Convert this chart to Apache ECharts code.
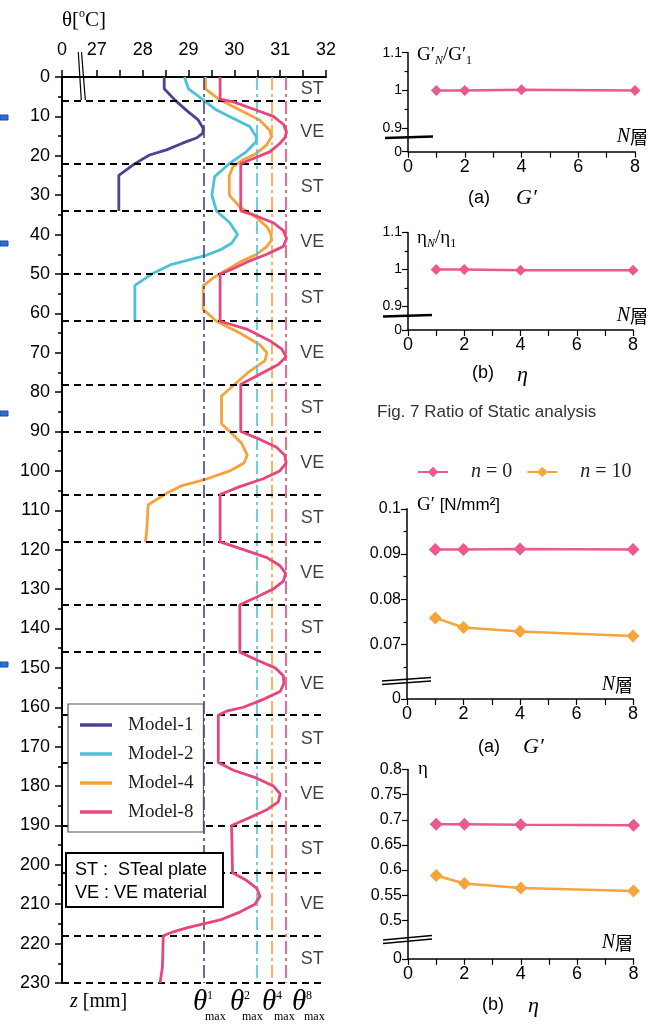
<!DOCTYPE html>
<html>
<head>
<meta charset="utf-8">
<script src="https://cdn.jsdelivr.net/npm/echarts@6.0.0/dist/echarts.min.js"></script>
<style>
html, body { margin: 0; padding: 0; background: #fff; }
#main { width: 667px; height: 1026px; }
</style>
</head>
<body>
<div id="main"></div>
<script>
var SANS = '"Liberation Sans", Arial, sans-serif';
var SERIF = '"Liberation Serif", "Times New Roman", serif';
var CJK = '"Noto Sans CJK JP", "Noto Sans CJK SC", sans-serif';

var PURPLE = '#4b4292', CYAN = '#4cc1d9', ORANGE = '#f6a23a', PINK = '#e8457d';
var PINK2 = '#ea5a8c', ORANGE2 = '#f6a53c';

// ---- left figure: temperature through the depth ----
var thetaStart = 26.24;            // broken axis origin, printed as "0"
var thetaLabels = [27, 28, 29, 30, 31, 32];
var thetaTicks = [27, 27.5, 28, 28.5, 29, 29.5, 30, 30.5, 31, 31.5, 32];
var layerEdges = [0, 6, 22, 34, 50, 62, 78, 90, 106, 118, 134, 146, 162, 174, 190, 202, 218, 230];
var layerNames = ['ST', 'VE', 'ST', 'VE', 'ST', 'VE', 'ST', 'VE', 'ST', 'VE', 'ST', 'VE', 'ST', 'VE', 'ST', 'VE', 'ST'];
var layerLabelX = 31.7;

var modelNames = ['Model-1', 'Model-2', 'Model-4', 'Model-8'];
var modelColors = [PURPLE, CYAN, ORANGE, PINK];
var thetaMax = [29.34, 30.48, 30.82, 31.12];

var zM1 = [0, 3, 5.8, 8.4, 10.9, 13, 14.3, 15.5, 16.8, 18.5, 19.8, 22, 25, 34];
var tM1 = [28.47, 28.47, 28.70, 28.95, 29.21, 29.32, 29.31, 29.17, 28.87, 28.52, 28.15, 27.83, 27.48, 27.48];

var zM2 = [0, 3, 5.8, 8.4, 10.5, 12.6, 15.2, 16.4, 19, 21.9, 25.3, 30, 34, 37, 40, 42.2, 43.9, 45.2, 47.7, 49.8, 52.9, 62];
var tM2 = [28.91, 29.0, 29.32, 29.61, 29.97, 30.34, 30.48, 30.48, 30.26, 29.90, 29.57, 29.51, 29.61, 29.90, 30.07, 29.94, 29.69, 29.40, 28.60, 28.23, 27.83, 27.83];

var zM4 = [0, 3, 5.8, 8.4, 10.9, 13.5, 15.2, 17.3, 19.4, 21, 22.8, 25, 30, 33, 35, 38, 40, 41.5, 43, 45, 47, 49, 51, 53, 59, 62,
           65, 68, 70, 72, 75, 78, 81, 88, 90, 93, 96, 98, 100, 102.3, 103.8, 105.7, 108.6, 115, 118];
var tM4 = [29.37, 29.37, 29.68, 30.12, 30.55, 30.77, 30.81, 30.70, 30.48, 30.19, 29.97, 29.89, 29.89, 30.12, 30.41, 30.71, 30.80, 30.81, 30.71, 30.49, 30.12, 29.83, 29.54, 29.32, 29.32, 29.61,
           30.12, 30.56, 30.71, 30.67, 30.30, 30.01, 29.72, 29.72, 29.90, 30.16, 30.28, 30.21, 29.90, 29.33, 28.84, 28.52, 28.12, 28.09, 28.06];

var zM8 = [0, 5.6, 6.3, 8, 10, 12, 14, 15.5, 17, 19, 21, 22, 34, 35, 37, 39, 41, 43, 45, 47, 49, 50, 62, 64, 67, 69, 71, 73, 75, 77, 78,
           90, 92, 94, 96, 98, 100, 102, 104, 106, 118, 120, 122, 124, 126, 128, 130, 132, 134, 146, 148, 150, 152, 154, 156, 158, 160, 161, 162,
           174, 176, 178, 180, 182, 184, 186, 188, 190, 202, 204, 206, 208, 210, 212, 214, 216, 217, 218, 226, 230];
var tM8 = [29.69, 29.69, 29.98, 30.38, 30.85, 31.07, 31.14, 31.10, 30.98, 30.77, 30.35, 30.14, 30.14, 30.41, 30.85, 31.07, 31.14, 31.07, 30.71, 30.27, 29.91, 29.69, 29.69, 30.27, 30.78, 31.03, 31.13, 30.96, 30.63, 30.31, 30.14,
           30.14, 30.56, 30.92, 31.10, 31.13, 30.99, 30.63, 30.12, 29.69, 29.69, 30.20, 30.71, 30.99, 31.12, 31.07, 30.85, 30.49, 30.12, 30.12, 30.49, 30.89, 31.07, 31.08, 31.00, 30.63, 30.20, 29.83, 29.65,
           29.65, 29.98, 30.49, 30.85, 31.00, 30.96, 30.71, 30.34, 29.94, 29.96, 30.27, 30.49, 30.56, 30.45, 30.12, 29.69, 28.96, 28.67, 28.45, 28.43, 28.38];

var modelZ = [zM1, zM2, zM4, zM8];
var modelT = [tM1, tM2, tM4, tM8];

// ---- right figures ----
var nLayers = [1, 2, 4, 8];
var nLabels = [0, 2, 4, 6, 8];
var ratioG = [1.0, 1.0, 1.002, 1.0];
var ratioEta = [1.0, 1.0, 0.998, 0.998];
var gN0 = [0.091, 0.091, 0.0911, 0.091];
var gN10 = [0.0759, 0.0738, 0.0729, 0.0719];
var etaN0 = [0.691, 0.691, 0.690, 0.689];
var etaN10 = [0.589, 0.573, 0.564, 0.558];

var ratioTicks = [0.9, 1, 1.1];
var ratioMinor = [0.95, 1.05];
var gTicks = [0.07, 0.08, 0.09, 0.1];
var gMinor = [0.065, 0.075, 0.085, 0.095];
var etaTicks = [0.5, 0.55, 0.6, 0.65, 0.7, 0.75, 0.8];

function pairs(xs, ys) {
    return xs.map(function (x, i) { return [x, ys[i]]; });
}

var dom = document.getElementById('main');
var myChart = echarts.init(dom, null, { renderer: 'canvas' });

var black = { color: '#000', width: 1.5 };

function smallX(gi) {
    return {
        gridIndex: gi, type: 'value', min: 0, max: 8, interval: 1,
        axisLine: { lineStyle: black },
        axisTick: { length: 6, lineStyle: { color: '#000', width: 1.2 } },
        axisLabel: { customValues: nLabels, color: '#000', fontSize: 18, fontFamily: SANS, margin: 6 },
        splitLine: { show: false }
    };
}
function smallY(gi, min, max, ticks, fs) {
    var vals = [min].concat(ticks);
    return {
        gridIndex: gi, type: 'value', min: min, max: max, position: 'left',
        axisLine: { show: true, lineStyle: black },
        axisTick: { show: true, customValues: vals, length: 6, lineStyle: { color: '#000', width: 1.2 } },
        axisLabel: {
            customValues: vals, color: '#000', fontSize: fs, fontFamily: SANS, margin: 6,
            formatter: function (v) { return v < ticks[0] - 1e-6 ? '0' : String(v); }
        },
        splitLine: { show: false }
    };
}
function minorY(gi, min, max, minor) {
    return {
        gridIndex: gi, type: 'value', min: min, max: max, position: 'left', offset: 0,
        axisLine: { show: false },
        axisTick: { show: true, customValues: minor, length: 3.5, lineStyle: { color: '#000', width: 1.2 } },
        axisLabel: { show: false },
        splitLine: { show: false }
    };
}
function smallLine(name, xi, yi, ys, color, size) {
    return {
        name: name, type: 'line', xAxisIndex: xi, yAxisIndex: yi,
        data: pairs(nLayers, ys),
        symbol: 'diamond', symbolSize: size,
        lineStyle: { color: color, width: 2.5 },
        itemStyle: { color: color },
        z: 3
    };
}

// main series
var series = [];
modelNames.forEach(function (name, i) {
    series.push({
        name: name, type: 'line', xAxisIndex: 0, yAxisIndex: 0,
        data: pairs(modelT[i], modelZ[i]),
        symbol: 'none',
        lineStyle: { color: modelColors[i], width: 2.8 },
        itemStyle: { color: modelColors[i] },
        z: 2 + i,
        markLine: {
            silent: true, symbol: ['none', 'none'], label: { show: false },
            lineStyle: { color: modelColors[i], width: 1.6, type: [13, 4, 3, 4] },
            data: [{ xAxis: thetaMax[i] }]
        }
    });
});
series.push({
    name: 'layers', type: 'scatter', xAxisIndex: 0, yAxisIndex: 0,
    symbolSize: 1,
    itemStyle: { color: 'rgba(0,0,0,0)' },
    data: layerNames.map(function (n, i) {
        return { value: [layerLabelX, (layerEdges[i] + layerEdges[i + 1]) / 2], name: n };
    }),
    label: {
        show: true, position: 'inside', formatter: '{b}',
        color: '#111', fontSize: 18, fontFamily: SANS
    },
    markLine: {
        silent: true, symbol: ['none', 'none'], label: { show: false },
        lineStyle: { color: '#000', width: 1.8, type: [7, 5] },
        data: layerEdges.slice(1).map(function (z) { return { yAxis: z }; })
    },
    z: 1
});

series.push(smallLine('ratioG', 1, 1, ratioG, PINK2, 11));
series.push(smallLine('ratioEta', 2, 3, ratioEta, PINK2, 11));
series.push(smallLine('n = 0', 3, 5, gN0, PINK2, 13));
series.push(smallLine('n = 10', 3, 5, gN10, ORANGE2, 13));
series.push(smallLine('n = 0', 4, 7, etaN0, PINK2, 13));
series.push(smallLine('n = 10', 4, 7, etaN10, ORANGE2, 13));

// annotations
var graphics = [];
function txt(x, y, text, font, opts) {
    var o = opts || {};
    graphics.push({
        type: 'text', x: x, y: y, z: 100, silent: true,
        style: {
            text: text, font: font, fill: o.fill || '#000',
            textAlign: o.align || 'left', textVerticalAlign: o.valign || 'middle',
            rich: o.rich
        }
    });
}
function seg(x1, y1, x2, y2, w) {
    graphics.push({
        type: 'line', z: 100, silent: true,
        shape: { x1: x1, y1: y1, x2: x2, y2: y2 },
        style: { stroke: '#000', lineWidth: w }
    });
}

// main axis name and break
txt(62, 20, '{a|θ[}{s|o}{a|C]}', '20px ' + SERIF, {
    rich: {
        a: { fontFamily: SERIF, fontSize: 21, lineHeight: 24, verticalAlign: 'middle' },
        s: { fontFamily: SERIF, fontSize: 12, lineHeight: 24, verticalAlign: 'top' }
    }
});
seg(78.3, 52, 81.3, 100, 1.2);
seg(81.5, 52, 85.3, 100, 1.2);

// bottom labels
txt(70, 1002, '{i|z} [mm]', '20px ' + SERIF, {
    rich: { i: { fontFamily: SERIF, fontSize: 20, fontStyle: 'italic' } }
});
var thetaLabelX = [193, 230, 262, 292];
var thetaSup = ['1', '2', '4', '8'];
thetaLabelX.forEach(function (x, i) {
    txt(x, 1002, 'θ', 'italic 29px ' + SERIF);
    txt(x + 14, 996, thetaSup[i], '12px ' + SERIF);
    txt(x + 12, 1017, 'max', '12px ' + SERIF);
});

// ST / VE key box
graphics.push({
    type: 'rect', z: 100, silent: true,
    shape: { x: 66, y: 853, width: 157, height: 54 },
    style: { fill: '#fff', stroke: '#000', lineWidth: 2 }
});
txt(75, 870, 'ST :  STeal plate', '18px ' + SANS);
txt(75, 893, 'VE : VE material', '18px ' + SANS);

// left margin marks
[115, 241, 411, 662].forEach(function (y) {
    graphics.push({
        type: 'rect', z: 100, silent: true,
        shape: { x: 0, y: y, width: 8, height: 5 },
        style: { fill: '#2a6fd6', stroke: '#1c4fa8', lineWidth: 1 }
    });
});

// right charts: axis names
var subRich = {
    t: { fontFamily: SERIF, fontSize: 19, lineHeight: 24, verticalAlign: 'middle' },
    s: { fontFamily: SERIF, fontSize: 12, lineHeight: 12, verticalAlign: 'bottom', fontStyle: 'italic' },
    n: { fontFamily: SERIF, fontSize: 12, lineHeight: 12, verticalAlign: 'bottom' },
    u: { fontFamily: SANS, fontSize: 17, lineHeight: 24, verticalAlign: 'middle' }
};
txt(417, 55, '{t|G′}{s|N}{t|/G′}{n|1}', '19px ' + SERIF, { rich: subRich });
txt(417, 238, '{t|η}{s|N}{t|/η}{n|1}', '19px ' + SERIF, { rich: subRich });
txt(417, 505, '{t|G′ }{u|[N/mm²]}', '19px ' + SERIF, { rich: subRich });
txt(418, 769, 'η', '19px ' + SERIF);

// N層 labels
var nRich = {
    i: { fontFamily: SERIF, fontSize: 20, fontStyle: 'italic' },
    c: { fontFamily: CJK, fontSize: 18 }
};
txt(648, 137, '{i|N}{c|層}', '18px ' + CJK, { align: 'right', rich: nRich });
txt(648, 316, '{i|N}{c|層}', '18px ' + CJK, { align: 'right', rich: nRich });
txt(633, 685, '{i|N}{c|層}', '18px ' + CJK, { align: 'right', rich: nRich });
txt(633, 943, '{i|N}{c|層}', '18px ' + CJK, { align: 'right', rich: nRich });

// captions
txt(468, 198, '(a)', '18px ' + SANS);
txt(516, 198, 'G′', 'italic 22px ' + SERIF);
txt(472, 373, '(b)', '18px ' + SANS);
txt(517, 375, 'η', 'italic 22px ' + SERIF);
txt(377, 412, 'Fig. 7 Ratio of Static analysis', '17px ' + SANS, { fill: '#333' });
txt(478, 747, '(a)', '18px ' + SANS);
txt(523, 747, 'G′', 'italic 22px ' + SERIF);
txt(482, 1005, '(b)', '18px ' + SANS);
txt(528, 1006, 'η', 'italic 22px ' + SERIF);

// axis breaks on the right charts
seg(385, 138, 433, 136.5, 2.5);
seg(383, 316.5, 432, 315, 2.5);
seg(382, 681, 431, 677.5, 1.4);
seg(382, 684.5, 431, 681, 1.4);
seg(383, 940, 432, 935.5, 1.4);
seg(383, 943.5, 432, 939, 1.4);

var option = {
    animation: false,
    backgroundColor: '#fff',
    textStyle: { fontFamily: SANS },
    legend: [
        {
            data: modelNames, orient: 'vertical', left: 68, top: 704,
            icon: 'rect',
            padding: [11, 10, 10, 12], itemGap: 9, itemWidth: 32, itemHeight: 3.5,
            backgroundColor: '#fff', borderColor: '#555', borderWidth: 1.2,
            textStyle: { fontFamily: SERIF, fontSize: 19, color: '#222', lineHeight: 20, padding: [0, 0, 0, 11] },
            z: 20
        },
        {
            data: ['n = 0', 'n = 10'], orient: 'horizontal', left: 417, top: 462,
            itemGap: 14, itemWidth: 30, itemHeight: 13, padding: 0,
            textStyle: {
                fontFamily: SERIF, fontSize: 20, color: '#222', padding: [0, 0, 0, 18],
                rich: { i: { fontFamily: SERIF, fontSize: 20, fontStyle: 'italic', color: '#222' } }
            },
            formatter: function (name) { return '{i|n}' + name.slice(1); }
        }
    ],
    grid: [
        { left: 62, top: 77, width: 264, height: 906 },
        { left: 408, top: 52.7, width: 227, height: 99 },
        { left: 408, top: 232.5, width: 225, height: 97.5 },
        { left: 407, top: 508.8, width: 226, height: 190.2 },
        { left: 408, top: 769.6, width: 225.5, height: 189.2 }
    ],
    xAxis: [
        {
            gridIndex: 0, type: 'value', position: 'top', min: thetaStart, max: 32,
            axisLine: { lineStyle: { color: '#000', width: 2 } },
            axisTick: { customValues: [thetaStart].concat(thetaTicks), length: 7, lineStyle: { color: '#000', width: 1.5 } },
            axisLabel: {
                customValues: [thetaStart].concat(thetaLabels), color: '#000', fontSize: 18, fontFamily: SANS, margin: 18,
                formatter: function (v) { return v < thetaLabels[0] - 0.5 ? '0' : String(v); }
            },
            splitLine: { show: false }
        },
        smallX(1), smallX(2), smallX(3), smallX(4)
    ],
    yAxis: [
        {
            gridIndex: 0, type: 'value', inverse: true, min: 0, max: 230, interval: 10,
            axisLine: { lineStyle: { color: '#000', width: 2 } },
            axisTick: { length: 7, lineStyle: { color: '#000', width: 1.5 } },
            minorTick: { show: true, splitNumber: 2, length: 4, lineStyle: { color: '#000', width: 1.5 } },
            axisLabel: { color: '#000', fontSize: 18, fontFamily: SANS, margin: 12 },
            splitLine: { show: false }
        },
        smallY(1, 0.838, 1.1, ratioTicks, 14),
        minorY(1, 0.838, 1.1, ratioMinor),
        smallY(2, 0.8365, 1.1, ratioTicks, 14),
        minorY(2, 0.8365, 1.1, ratioMinor),
        smallY(3, 0.058, 0.1, gTicks, 16),
        minorY(3, 0.058, 0.1, gMinor),
        smallY(4, 0.4231, 0.8, etaTicks, 16)
    ],
    series: series,
    graphic: graphics
};

if (option && typeof option === 'object') {
    myChart.setOption(option);
}
</script>
</body>
</html>
